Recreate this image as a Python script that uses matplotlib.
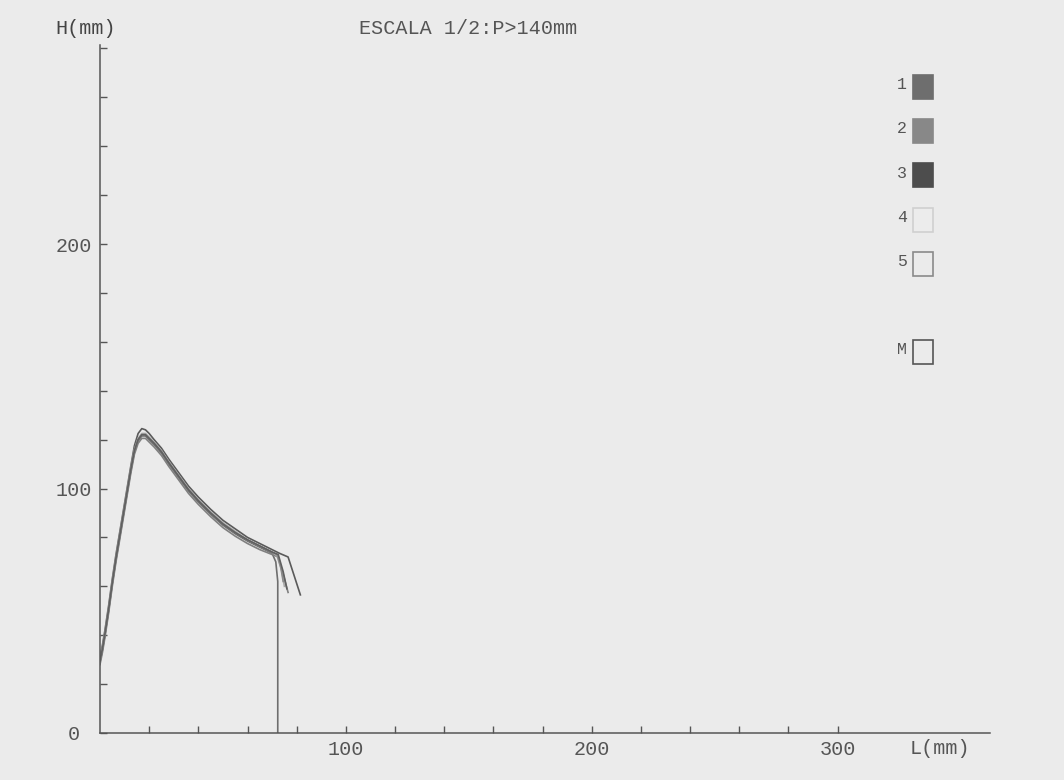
import numpy as np
import matplotlib.pyplot as plt
from matplotlib.patches import Rectangle
from matplotlib.ticker import FixedLocator

# profile curves: L (mm) vs H (mm)
l_base = [0, 1, 2, 3.5, 5, 6.5, 8, 9.5, 11, 12.5, 14, 15.5, 17, 18.5, 20, 22,
          25, 28, 32, 36, 40, 45, 50, 55, 60, 65, 70]

h_1 = [29, 34, 40, 50, 61, 71, 80, 89, 98, 107, 115, 119.5, 121.5, 121.5, 120,
       118, 114.5, 110, 104.5, 99, 94.5, 89.5, 85, 81.5, 78.5, 76, 73.5]
l_1_end = [71.5, 72.3, 72.3]
h_1_end = [70, 62, 0]

h_2 = [28, 33, 39, 49, 60, 70, 79, 88, 97, 106, 114, 118.5, 120.5, 120.5, 119,
       117, 113.5, 109, 103.5, 98, 93.5, 88.5, 84, 80.5, 77.5, 75, 73]
l_2_end = [72.5, 74.5, 76.5]
h_2_end = [72, 65, 57.5]

h_3 = [31, 36, 42, 52, 63, 73, 82, 91, 100, 109, 117.5, 122.5, 124.5, 124,
       122.5, 120, 116.5, 112, 106.5, 101, 96.5, 91.5, 87, 83.5, 80, 77.5, 75]
l_3_end = [73, 76.5, 81.5]
h_3_end = [73.5, 72, 56.5]

h_4 = [30, 35, 41, 51, 62, 72, 81, 90, 99, 108, 116, 120.5, 122.5, 122.5, 121,
       119, 115.5, 111, 105.5, 100, 95.5, 90.5, 86, 82.5, 79, 76.5, 74]
l_4_end = [72, 74, 75]
h_4_end = [72.5, 66, 60]

h_5 = [29.5, 34.5, 40.5, 50.5, 61.5, 71.5, 80.5, 89.5, 98.5, 107.5, 115.5, 120,
       122, 122, 120.5, 118.5, 115, 110.5, 105, 99.5, 95, 90, 85.5, 82, 79,
       76.5, 74]
l_5_end = [72, 73.5, 74.5]
h_5_end = [73, 68, 62]

h_m = [29.5, 34.5, 40.5, 50.5, 61.5, 71.5, 80.5, 89.5, 98.5, 107.5, 115.5, 120,
       122, 122, 120.5, 118.5, 115, 110.5, 105, 99.5, 95, 90, 85.5, 82, 79,
       76.5, 74]
l_m_end = [72.5, 74.5, 76]
h_m_end = [73, 66, 59]

series = [(h_1, l_1_end, h_1_end, '#6e6e6e'),
          (h_2, l_2_end, h_2_end, '#808080'),
          (h_3, l_3_end, h_3_end, '#5a5a5a'),
          (h_4, l_4_end, h_4_end, '#a8a8a8'),
          (h_5, l_5_end, h_5_end, '#8a8a8a'),
          (h_m, l_m_end, h_m_end, '#606060')]

legend_labels = ['1', '2', '3', '4', '5', 'M']
legend_faces = ['#6e6e6e', '#888888', '#4d4d4d', '#ececec', 'none', 'none']
legend_edges = ['#6e6e6e', '#888888', '#4d4d4d', '#d0d0d0', '#8a8a8a', '#555555']
legend_y = [86.5, 130.5, 175, 219.5, 264, 351.5]  # pixel rows from top

font = 'Liberation Mono'
bg = '#ebebeb'
ink = '#555555'

fig = plt.figure(figsize=(10.64, 7.8), dpi=100, facecolor=bg)
ax = fig.add_axes([100 / 1064, 47 / 780, 890 / 1064, 688 / 780])
ax.set_facecolor(bg)

for h, l_end, h_end, c in series:
    ax.plot(l_base + l_end, h + h_end, color=c, lw=1.2)

ax.set_xlim(0, 362)
ax.set_ylim(0, 281.4)
for s in ['top', 'right']:
    ax.spines[s].set_visible(False)
for s in ['left', 'bottom']:
    ax.spines[s].set_color(ink)
    ax.spines[s].set_linewidth(1.1)

ax.set_xticks([100, 200, 300])
ax.set_xticklabels(['100', '200', '300'], family=font)
ax.set_yticks([0, 100, 200])
ax.set_yticklabels(['0', '100', '200'], family=font, ha='center')
ax.xaxis.set_minor_locator(FixedLocator(list(range(20, 301, 20))))
ax.yaxis.set_minor_locator(FixedLocator(list(range(20, 281, 20))))
ax.tick_params(which='both', direction='in', length=5, width=1, color=ink,
               labelcolor=ink, labelsize=14.5)
ax.tick_params(axis='x', pad=5)
ax.tick_params(axis='y', pad=19)

fig.text(910 / 1064, 1 - 748 / 780, 'L(mm)', family=font, fontsize=14.5,
         color=ink, ha='left', va='center')
fig.text(55 / 1064, 1 - 29 / 780, 'H(mm)', family=font, fontsize=14.5,
         color='#444444', ha='left', va='center')
fig.text(468 / 1064, 1 - 28 / 780, 'ESCALA 1/2:P>140mm', family=font,
         fontsize=14.5, color=ink, ha='center', va='center')

# legend drawn by hand: label on the left, square on the right
for lab, fc, ec, yp in zip(legend_labels, legend_faces, legend_edges, legend_y):
    fig.text(907 / 1064, 1 - (yp - 2) / 780, lab, family=font, fontsize=12,
             color=ink, ha='right', va='center')
    fig.patches.append(Rectangle((913 / 1064, 1 - (yp + 12) / 780),
                                 20 / 1064, 24 / 780, transform=fig.transFigure,
                                 facecolor=fc, edgecolor=ec, lw=1.2))

fig.savefig('out.png', dpi=100, facecolor=bg)
